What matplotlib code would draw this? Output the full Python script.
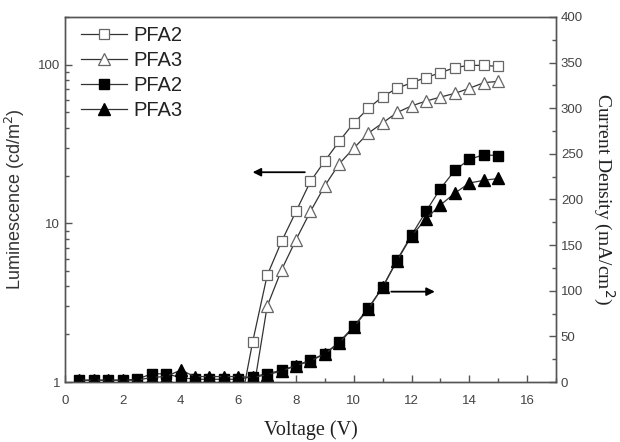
import matplotlib
matplotlib.use("Agg")
import matplotlib.pyplot as plt
from matplotlib.ticker import MultipleLocator, LogLocator, FixedLocator, NullFormatter

# ---- data ----
voltage = [0.5, 1.0, 1.5, 2.0, 2.5, 3.0, 3.5, 4.0, 4.5, 5.0, 5.5, 6.0, 6.5, 7.0, 7.5,
           8.0, 8.5, 9.0, 9.5, 10.0, 10.5, 11.0, 11.5, 12.0, 12.5, 13.0, 13.5, 14.0, 14.5, 15.0]

lum_v_pfa2 = [6.0, 6.5, 7.0, 7.5, 8.0, 8.5, 9.0, 9.5, 10.0, 10.5, 11.0, 11.5, 12.0, 12.5,
              13.0, 13.5, 14.0, 14.5, 15.0]
lum_pfa2 = [0.6, 1.8, 4.7, 7.7, 11.9, 18.4, 24.8, 33, 43, 53, 63, 71, 77, 83,
            89, 96, 99, 99, 97.5]

lum_v_pfa3 = [6.5, 7.0, 7.5, 8.0, 8.5, 9.0, 9.5, 10.0, 10.5, 11.0, 11.5, 12.0, 12.5,
              13.0, 13.5, 14.0, 14.5, 15.0]
lum_pfa3 = [0.83, 3.0, 5.1, 7.9, 11.9, 17.3, 23.8, 29.8, 37, 43, 50, 55, 59,
            62.5, 66, 71, 77, 78.5]

cur_pfa2 = [2, 2, 2, 2, 3, 9, 9, 5, 3, 3, 3, 3, 6, 9, 13,
            18, 24, 31, 44, 61, 81, 104, 134, 161, 187, 212, 232, 244, 249, 248]
cur_pfa3 = [2, 2, 2, 2, 2, 5, 6, 13, 6, 6, 6, 6, 5, 8, 12,
            18, 23, 31, 43, 60, 80, 104, 133, 160, 179, 194, 207, 218, 221, 223]

labels = ["PFA2", "PFA3", "PFA2", "PFA3"]

# ---- figure ----
fig = plt.figure(figsize=(6.2, 4.42), dpi=100)
ax = fig.add_axes([0.1048, 0.1357, 0.792, 0.826])
ax2 = ax.twinx()

line_col = "#333333"
open_col = "#666666"
ms = 7.5

h1, = ax.plot(lum_v_pfa2, lum_pfa2, color=line_col, lw=0.9, marker="s", ms=ms,
              mfc="white", mec=open_col, mew=0.9)
h2, = ax.plot(lum_v_pfa3, lum_pfa3, color=line_col, lw=0.9, marker="^", ms=ms + 1,
              mfc="white", mec=open_col, mew=0.9)
h3, = ax2.plot(voltage, cur_pfa2, color=line_col, lw=0.9, marker="s", ms=ms,
               mfc="black", mec="black")
h4, = ax2.plot(voltage, cur_pfa3, color=line_col, lw=0.9, marker="^", ms=ms + 1,
               mfc="black", mec="black")

ax.set_yscale("log")
ax.set_xlim(0, 17)
ax.set_ylim(1, 200)
ax2.set_ylim(0, 400)

tick_col = "#444444"
for a in (ax, ax2):
    for s in a.spines.values():
        s.set_color("#555555")
        s.set_linewidth(1.0)

ax.xaxis.set_major_locator(MultipleLocator(2))
ax.xaxis.set_minor_locator(MultipleLocator(1))
ax.yaxis.set_major_locator(FixedLocator([1, 10, 100]))
ax.yaxis.set_minor_locator(LogLocator(base=10, subs=range(2, 10)))
ax.yaxis.set_minor_formatter(NullFormatter())
ax.set_yticklabels(["1", "10", "100"])
ax2.yaxis.set_major_locator(MultipleLocator(50))
ax2.yaxis.set_minor_locator(MultipleLocator(25))

tick_font = dict(labelsize=9.5, labelcolor=tick_col, color="#555555")
ax.tick_params(axis="both", which="major", direction="in", length=5, width=1, **tick_font)
ax.tick_params(axis="both", which="minor", direction="in", length=3, width=1, color="#555555")
ax.tick_params(axis="x", pad=9)
ax2.tick_params(axis="y", which="major", direction="in", length=5, width=1, **tick_font)
ax2.tick_params(axis="y", which="minor", direction="in", length=3, width=1, color="#555555")
for lab in ax.get_xticklabels() + ax.get_yticklabels() + ax2.get_yticklabels():
    lab.set_family("Liberation Sans")

ax.set_xlabel("Voltage (V)", family="Liberation Serif", fontsize=14.5, color="#222222", labelpad=10)
ax.set_ylabel("Luminescence (cd/m$^2$)", family="Liberation Sans", fontsize=13, color="#333333", labelpad=8)
ax2.set_ylabel("Current Density (mA/cm$^2$)", family="Liberation Serif", fontsize=14,
               color="#222222", rotation=270, labelpad=24)

# arrows
ax.annotate("", xy=(6.4, 21), xytext=(8.4, 21),
            arrowprops=dict(arrowstyle="-|>", color="black", lw=1.3, mutation_scale=12))
ax2.annotate("", xy=(12.9, 99), xytext=(11.2, 99),
             arrowprops=dict(arrowstyle="-|>", color="black", lw=1.3, mutation_scale=12))

leg = ax.legend([h1, h2, h3, h4], labels, loc="upper left", frameon=False,
                numpoints=1, fontsize=14.5, handlelength=2.3, handletextpad=0.3,
                labelspacing=0.3, borderaxespad=0, borderpad=0,
                bbox_to_anchor=(0.033, 0.975))
for t in leg.get_texts():
    t.set_family("Liberation Sans")
    t.set_color("#222222")

fig.savefig("out.png", dpi=100)
